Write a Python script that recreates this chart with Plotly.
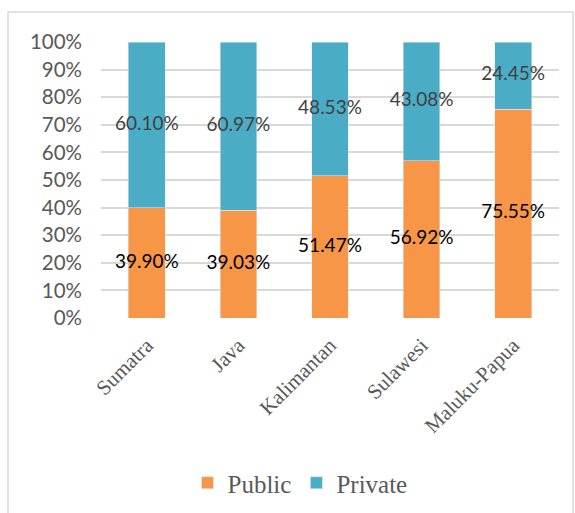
import plotly.graph_objects as go

regions = ["Sumatra", "Java", "Kalimantan", "Sulawesi", "Maluku-Papua"]
public = [39.90, 39.03, 51.47, 56.92, 75.55]
private = [60.10, 60.97, 48.53, 43.08, 24.45]
y_tick_vals = [0, 10, 20, 30, 40, 50, 60, 70, 80, 90, 100]
y_tick_text = [f"{v}%" for v in y_tick_vals]

ORANGE = "#F79646"
TEAL = "#4BACC6"

fig = go.Figure()
fig.add_trace(go.Bar(x=regions, y=public, name="Public", marker_color=ORANGE,
                     hoverinfo="skip"))
fig.add_trace(go.Bar(x=regions, y=private, name="Private", marker_color=TEAL,
                     hoverinfo="skip"))

# data labels centred in each segment
pub_mid = [p / 2 for p in public]
priv_mid = [p + q / 2 for p, q in zip(public, private)]
fig.add_trace(go.Scatter(x=regions, y=pub_mid, mode="text",
                         text=[f"{v:.2f}%" for v in public],
                         textfont=dict(family="Lato", size=19, color="#000000"),
                         showlegend=False, hoverinfo="skip"))
fig.add_trace(go.Scatter(x=regions, y=priv_mid, mode="text",
                         text=[f"{v:.2f}%" for v in private],
                         textfont=dict(family="Lato", size=19, color="#404040"),
                         showlegend=False, hoverinfo="skip"))

L, R, T, B = 101, 16, 42, 195
W, H = 575, 513
pw = W - L - R
ph = H - T - B

def px_x(x):
    return (x - L) / pw

def px_y(y):
    return (H - B - y) / ph

fig.update_layout(
    width=W, height=H,
    margin=dict(l=L, r=R, t=T, b=B, pad=0, autoexpand=False),
    barmode="stack",
    bargap=0.6,
    plot_bgcolor="white",
    paper_bgcolor="white",
    showlegend=True,
    legend=dict(orientation="h", x=px_x(300), xanchor="center",
                y=px_y(483), yanchor="middle", traceorder="normal",
                font=dict(family="Liberation Serif", size=25, color="#595959"),
                itemwidth=30),
    xaxis=dict(tickangle=-45, showgrid=False, zeroline=False, showline=False,
               tickfont=dict(family="Liberation Serif", size=21, color="#595959"),
               ticks="", automargin=False, ticklabelstandoff=10,
               fixedrange=True),
    yaxis=dict(range=[0, 100], tickvals=y_tick_vals, ticktext=y_tick_text,
               showgrid=True, gridcolor="#D9D9D9", gridwidth=1.5,
               zeroline=False, showline=False, ticks="",
               ticklabelstandoff=18, automargin=False,
               tickfont=dict(family="Lato", size=20.5, color="#595959"),
               fixedrange=True),
    shapes=[dict(type="rect", xref="paper", yref="paper",
                 x0=px_x(8), x1=px_x(573), y0=px_y(530), y1=px_y(12),
                 line=dict(color="#D9D9D9", width=1.5), layer="below")],
)

fig.write_html("out.html")
